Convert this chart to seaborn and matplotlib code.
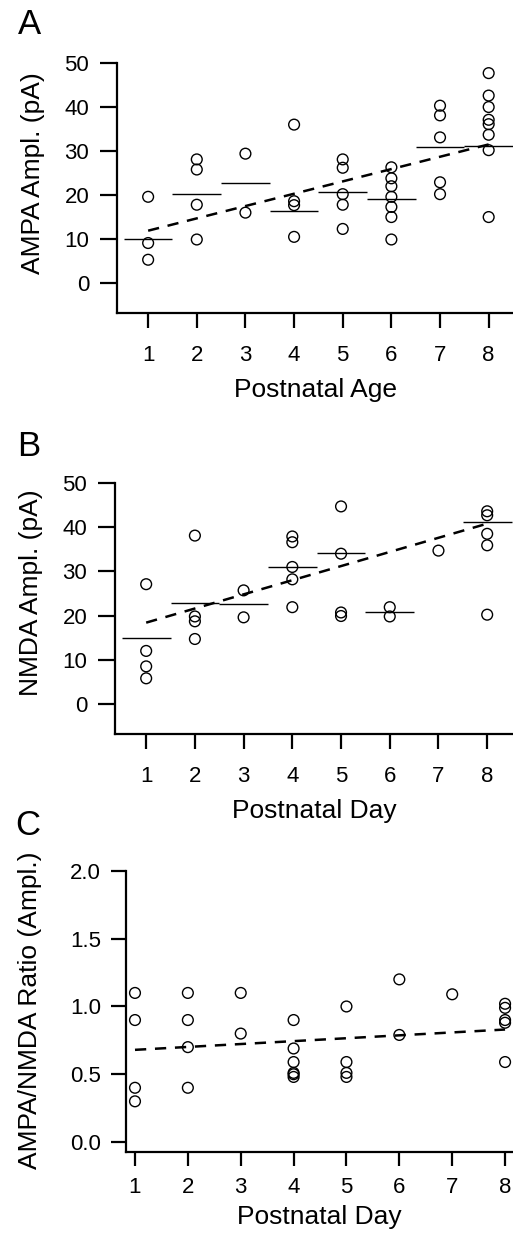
import matplotlib
matplotlib.use('Agg')
import matplotlib.pyplot as plt
import seaborn as sns
import numpy as np

sns.set_style('ticks')
plt.rcParams['font.family'] = ['Liberation Sans', 'DejaVu Sans']
plt.rcParams['text.color'] = 'black'
plt.rcParams['axes.labelcolor'] = 'black'

days = [1, 2, 3, 4, 5, 6, 7, 8]

# Panel A: AMPA amplitude
ampa_day = [1, 1, 1, 2, 2, 2, 2, 3, 3, 4, 4, 4, 4, 5, 5, 5, 5, 5,
            6, 6, 6, 6, 6, 6, 6, 7, 7, 7, 7, 7, 8, 8, 8, 8, 8, 8, 8, 8]
ampa_val = [19.6, 9.1, 5.3, 28.1, 25.8, 17.8, 9.9, 29.4, 16.0,
            36.0, 18.6, 17.7, 10.5, 28.1, 26.2, 20.2, 17.8, 12.3,
            26.3, 23.8, 22.0, 19.6, 17.3, 15.0, 9.9,
            40.3, 38.1, 33.1, 22.9, 20.2,
            47.7, 42.6, 40.0, 37.1, 36.1, 33.7, 30.2, 15.0]
ampa_median = [9.9, 20.2, 22.8, 16.4, 20.8, 19.0, 31.0, 31.2]
ampa_fit = [11.9, 31.5]

# Panel B: NMDA amplitude
nmda_day = [1, 1, 1, 1, 2, 2, 2, 2, 3, 3, 4, 4, 4, 4, 4, 5, 5, 5, 5,
            6, 6, 7, 8, 8, 8, 8, 8]
nmda_val = [27.1, 12.0, 8.5, 5.8, 38.1, 19.8, 18.7, 14.7, 25.7, 19.6,
            37.9, 36.6, 31.0, 28.2, 21.9, 44.7, 34.0, 20.7, 19.9,
            21.9, 19.8, 34.7, 43.6, 42.7, 38.5, 35.9, 20.2]
nmda_median = [14.9, 22.8, 22.6, 31.1, 34.1, 20.8, np.nan, 41.2]
nmda_fit = [18.4, 40.8]

# Panel C: AMPA/NMDA ratio
ratio_day = [1, 1, 1, 1, 2, 2, 2, 2, 3, 3, 4, 4, 4, 4, 4, 4, 5, 5, 5, 5,
             6, 6, 7, 8, 8, 8, 8, 8]
ratio_val = [1.10, 0.90, 0.40, 0.30, 1.10, 0.90, 0.70, 0.40, 1.10, 0.80,
             0.90, 0.69, 0.59, 0.51, 0.50, 0.48, 1.00, 0.59, 0.51, 0.48,
             1.20, 0.79, 1.09, 1.02, 0.99, 0.90, 0.88, 0.59]
ratio_fit = [0.68, 0.83]
fit_days = [1, 8]

amp_ticks = [0, 10, 20, 30, 40, 50]
ratio_ticks = [0.0, 0.5, 1.0, 1.5, 2.0]

W, H = 513, 1238
fig = plt.figure(figsize=(W / 100, H / 100), dpi=100)


def rect(l, t, r, b):
    return [l / W, 1 - b / H, (r - l) / W, (b - t) / H]


axA = fig.add_axes(rect(117, 63, 513, 313))
axB = fig.add_axes(rect(115, 483, 513, 734))
axC = fig.add_axes(rect(126, 871, 513, 1152))

TICK_FS = 16
LABEL_FS = 19


def style(ax, xlim, ylim, yticks, ylabel, xlabel, ylab_xy, fmt=None,
          xpad=12, xlabpad=9, ylen=12, ypad=8, xlen=11):
    ax.set_xlim(*xlim)
    ax.set_ylim(*ylim)
    ax.set_xticks(days)
    ax.set_yticks(yticks)
    if fmt:
        ax.set_yticklabels([fmt.format(v) for v in yticks])
    sns.despine(ax=ax)
    for s in ['left', 'bottom']:
        ax.spines[s].set_linewidth(1.6)
        ax.spines[s].set_color('black')
    ax.spines['left'].set_bounds(ylim[0], yticks[-1])
    ax.tick_params(axis='both', direction='out', width=1.6,
                   colors='black', labelsize=TICK_FS)
    ax.tick_params(axis='y', pad=ypad, length=ylen)
    ax.tick_params(axis='x', pad=xpad, length=xlen)
    ax.set_xlabel(xlabel, fontsize=LABEL_FS, labelpad=xlabpad, color='black')
    ax.set_ylabel(ylabel, fontsize=LABEL_FS, color='black')
    ax.yaxis.set_label_coords(*ylab_xy)
    ax.set_facecolor('white')


def draw(ax, xd, yd, fit, med=None):
    sns.scatterplot(x=xd, y=yd, ax=ax, marker='o', s=60,
                    facecolors='none', edgecolor='black', linewidth=1.0,
                    zorder=3, legend=False)
    sns.lineplot(x=fit_days, y=fit, ax=ax, color='black', linewidth=1.8,
                 dashes=False, zorder=2)
    ax.lines[-1].set_dashes((4.5, 3.5))
    if med is not None:
        for d, m in zip(days, med):
            if not np.isnan(m):
                ax.hlines(m, d - 0.5, d + 0.5, color='black', linewidth=1.0,
                          zorder=2)


draw(axA, ampa_day, ampa_val, ampa_fit, ampa_median)
style(axA, (0.36, 8.5), (-6.8, 50), amp_ticks, 'AMPA Ampl. (pA)',
      'Postnatal Age', (-0.182, 0.56))

draw(axB, nmda_day, nmda_val, nmda_fit, nmda_median)
style(axB, (0.36, 8.53), (-6.8, 50), amp_ticks, 'NMDA Ampl. (pA)',
      'Postnatal Day', (-0.181, 0.562))

draw(axC, ratio_day, ratio_val, ratio_fit)
style(axC, (0.83, 8.15), (-0.074, 2.0), ratio_ticks,
      'AMPA/NMDA Ratio (Ampl.)', 'Postnatal Day', (-0.217, 0.505),
      fmt='{:.1f}', xpad=8, xlabpad=5, ylen=11, ypad=7, xlen=10)

for letter, x, y in [('A', 18, 8), ('B', 17, 430), ('C', 15, 809)]:
    fig.text(x / W, 1 - y / H, letter, fontsize=25, ha='left', va='top',
             color='black')

fig.savefig('out.png', dpi=100, facecolor='white')
